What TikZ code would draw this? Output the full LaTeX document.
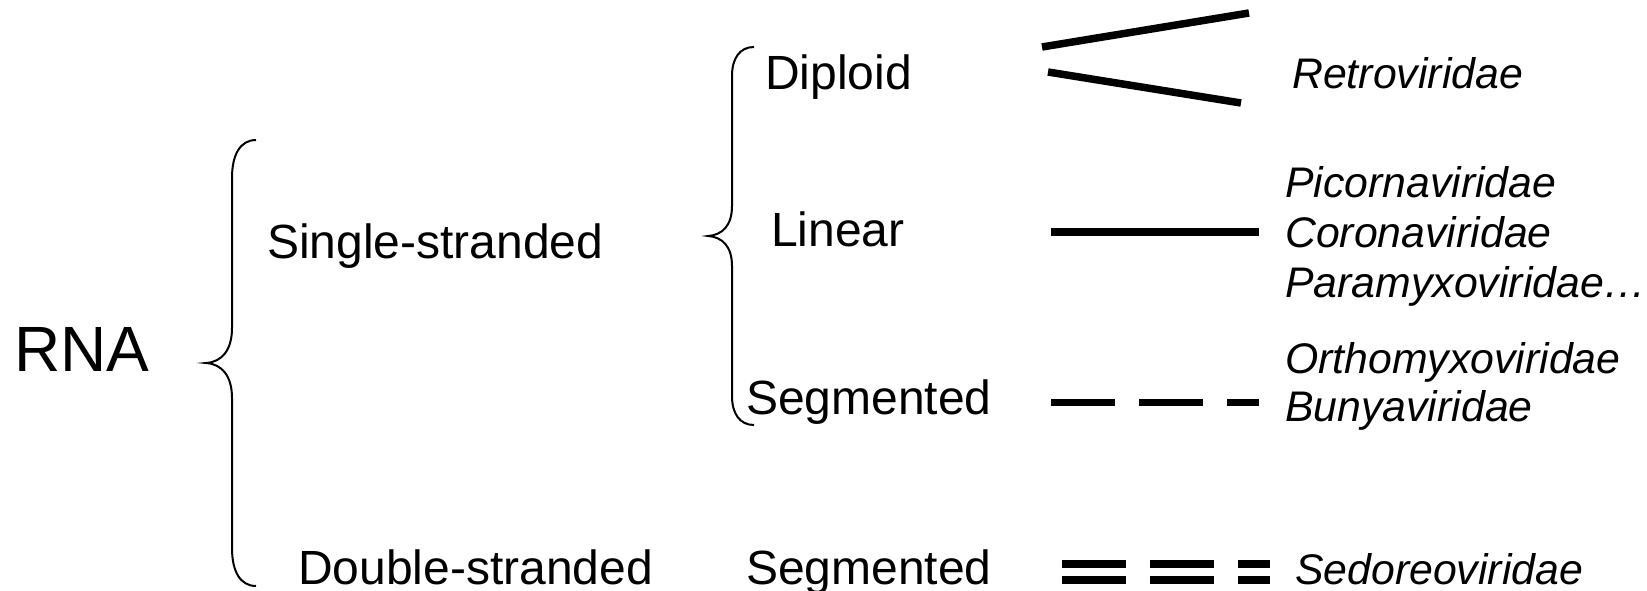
\documentclass[tikz,border=0pt]{standalone}
\usepackage{fontspec}
\setmainfont{Liberation Sans}
\begin{document}
\begin{tikzpicture}[x=1pt,y=-1pt,
  big/.style={anchor=base west,inner sep=0pt,font=\fontsize{48}{56}\selectfont},
  fam/.style={anchor=base west,inner sep=0pt,font=\fontsize{42.8}{49}\selectfont\itshape},
  brace/.style={line width=2pt},
  thick line/.style={line width=7.5pt,line cap=butt},
  dashline/.style={thick line,dash pattern=on 64pt off 24pt}]
\useasboundingbox (0,0) rectangle (1647,591);
% texts
\node[anchor=base west,inner sep=0pt,font=\fontsize{64}{70}\selectfont] (rna) at (14,371) {RNA};
\node[big] (ss) at (267,258) {Single-stranded};
\node[big] (ds) at (298,584) {Double-stranded};
\node[big] (dip) at (765,90) {Diploid};
\node[big] (lin) at (771,246) {Linear};
\node[big] (seg1) at (746,414) {Segmented};
\node[big] (seg2) at (746,584) {Segmented};
\node[fam] (retro) at (1292,89) {Retroviridae};
\node[fam] (pic) at (1285,197) {Picornaviridae};
\node[fam] (cor) at (1285,247) {Coronaviridae};
\node[fam] (par) at (1285,297) {Paramyxoviridae\ldots};
\node[fam] (orth) at (1285,373) {Orthomyxoviridae};
\node[fam] (bun) at (1285,421) {Bunyaviridae};
\node[fam] (sed) at (1295,584) {Sedoreoviridae};
% big brace
\draw[brace] (256,140) .. controls (240,140) and (232,155) .. (232,178)
  -- (232,328) .. controls (232,350) and (222,362) .. (206,363)
  .. controls (222,364) and (232,376) .. (232,398)
  -- (232,548) .. controls (232,571) and (240,586) .. (256,586);
% small brace
\draw[brace] (754,47) .. controls (740,47) and (732,58) .. (732,76)
  -- (732,206) .. controls (732,226) and (722,235) .. (708,236)
  .. controls (722,237) and (732,246) .. (732,266)
  -- (732,396) .. controls (732,414) and (740,425) .. (754,425);
% line symbols
\coordinate (d1a) at (1042,47); \coordinate (d1b) at (1249,13);
\coordinate (d2a) at (1048,72); \coordinate (d2b) at (1241,103);
\draw[thick line] (d1a) -- (d1b);
\draw[thick line] (d2a) -- (d2b);
\coordinate (la) at (1051,232); \coordinate (lb) at (1259,232);
\draw[thick line] (la) -- (lb);
\coordinate (sa) at (1051,402.5); \coordinate (sb) at (1259,402.5);
\draw[dashline] (sa) -- (sb);
\coordinate (ua) at (1062,564); \coordinate (ub) at (1270,564);
\coordinate (va) at (1062,580); \coordinate (vb) at (1270,580);
\draw[dashline] (ua) -- (ub);
\draw[dashline] (va) -- (vb);
\end{tikzpicture}
\end{document}
